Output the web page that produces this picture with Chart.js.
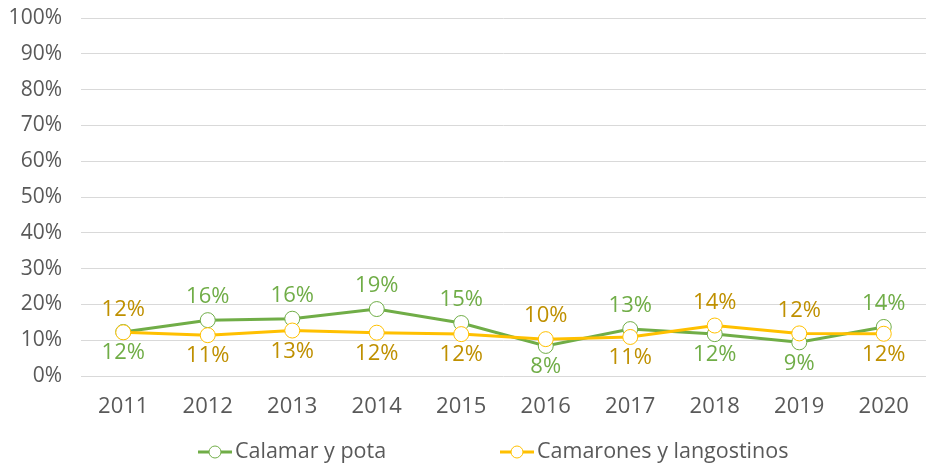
<!DOCTYPE html>
<html><head><meta charset="utf-8">
<script src="https://cdn.jsdelivr.net/npm/chart.js@4/dist/chart.umd.min.js"></script>
<style>html,body{margin:0;padding:0;background:#fff;overflow:hidden}#wrap{width:926px;height:470px;position:relative}canvas{display:block}</style>
</head><body><div id="wrap"><canvas id="c" width="926" height="470" style="width:926px;height:470px"></canvas></div>
<script>
const years = ['2011','2012','2013','2014','2015','2016','2017','2018','2019','2020'];
const calamar = [12.3,15.6,16.0,18.7,14.8,8.4,13.1,11.7,9.4,13.7];
const camarones = [12.2,11.4,12.7,12.1,11.7,10.3,10.9,14.1,11.9,11.8];
const yTicks = [0,10,20,30,40,50,60,70,80,90,100];
const seriesNames = ['Calamar y pota','Camarones y langostinos'];

const FONT = "'Open Sans', sans-serif";
const GREEN = '#70AD47', YELLOW = '#FFC000';
const LABEL_COLORS = [GREEN, '#BF9000'];

const labelPlugin = {
  id: 'pctLabels',
  afterDatasetsDraw(chart) {
    const ctx = chart.ctx;
    const ds = chart.data.datasets;
    ctx.save();
    ctx.font = '22px ' + FONT;
    ctx.textAlign = 'center';
    ctx.textBaseline = 'middle';
    ds.forEach((d, di) => {
      const meta = chart.getDatasetMeta(di);
      const other = ds[1 - di].data;
      meta.data.forEach((pt, i) => {
        const mine = Math.round(d.data[i]), oth = Math.round(other[i]);
        let above;
        if (mine === oth) above = di === 1; else above = mine > oth;
        const y = above ? pt.y - 23 : pt.y + 21;
        ctx.fillStyle = LABEL_COLORS[di];
        ctx.fillText(Math.round(d.data[i]) + '%', pt.x, y);
      });
    });
    ctx.restore();
  },
  afterDraw(chart) {
    const ctx = chart.ctx;
    const ds = chart.data.datasets;
    const starts = [198, 500];
    const y = 452;
    ctx.save();
    ctx.font = '21.5px ' + FONT;
    ctx.textBaseline = 'middle';
    ctx.textAlign = 'left';
    ds.forEach((d, di) => {
      const x = starts[di];
      ctx.strokeStyle = d.borderColor;
      ctx.lineWidth = 3;
      ctx.beginPath(); ctx.moveTo(x, y); ctx.lineTo(x + 34, y); ctx.stroke();
      ctx.fillStyle = '#fff';
      ctx.lineWidth = 1;
      ctx.beginPath(); ctx.arc(x + 17, y, 6, 0, Math.PI * 2); ctx.fill(); ctx.stroke();
      ctx.fillStyle = '#595959';
      ctx.fillText(d.label, x + 37, y);
    });
    ctx.restore();
  }
};

new Chart(document.getElementById('c'), {
  type: 'line',
  data: {
    labels: years,
    datasets: [
      { label: seriesNames[0], data: calamar, borderColor: GREEN, backgroundColor: '#fff',
        borderWidth: 3, pointRadius: 7.5, pointBorderWidth: 1, pointBackgroundColor: '#fff',
        pointBorderColor: GREEN, tension: 0, order: 1 },
      { label: seriesNames[1], data: camarones, borderColor: YELLOW, backgroundColor: '#fff',
        borderWidth: 3, pointRadius: 7.5, pointBorderWidth: 1, pointBackgroundColor: '#fff',
        pointBorderColor: YELLOW, tension: 0, order: 0 }
    ]
  },
  options: {
    responsive: false,
    animation: false,
    layout: { autoPadding: false, padding: { top: 18, right: 0, bottom: 44, left: 0 } },
    plugins: { legend: { display: false }, tooltip: { enabled: false } },
    scales: {
      x: {
        offset: true,
        grid: { display: false, drawTicks: false, offset: true },
        border: { display: false },
        ticks: { color: '#595959', font: { family: FONT, size: 22 }, padding: 18, maxRotation: 0 },
        afterFit(s) { s.height = 50; s.paddingLeft = 0; s.paddingRight = 0; }
      },
      y: {
        min: 0, max: 100,
        afterBuildTicks(s) { s.ticks = yTicks.map(v => ({ value: v })); },
        grid: { color: '#d9d9d9', lineWidth: 1, drawTicks: false },
        border: { display: false },
        ticks: { color: '#595959', font: { family: FONT, size: 21 }, padding: 19,
          callback: v => v + '%' },
        afterFit(s) { s.width = 81; s.paddingTop = 0; s.paddingBottom = 0; s.paddingLeft = 0; s.paddingRight = 0; }
      }
    }
  },
  plugins: [labelPlugin]
});
</script>
</body></html>
